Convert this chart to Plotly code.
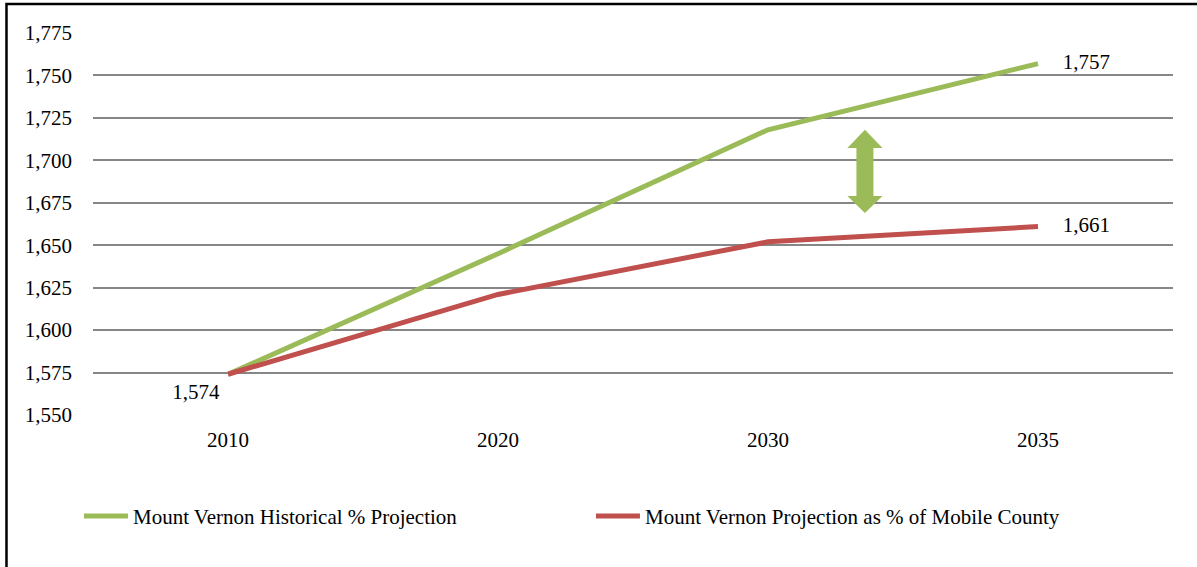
import plotly.graph_objects as go

years = ["2010", "2020", "2030", "2035"]
historical = [1574, 1645, 1718, 1757]
mobile_share = [1574, 1621, 1652, 1661]
series_names = ["Mount Vernon Historical % Projection",
                "Mount Vernon Projection as % of Mobile County"]
y_ticks = list(range(1550, 1776, 25))

GREEN = "#9BBB59"
RED = "#C0504D"
FONT = "Liberation Serif"

fig = go.Figure()
fig.add_trace(go.Scatter(x=years, y=historical, mode="lines", name=series_names[0],
                         line=dict(color=GREEN, width=5)))
fig.add_trace(go.Scatter(x=years, y=mobile_share, mode="lines", name=series_names[1],
                         line=dict(color=RED, width=5)))

# data labels (text marks placed through the axes)
fig.add_trace(go.Scatter(x=[years[-1], years[-1]], y=[historical[-1], mobile_share[-1]],
                         mode="markers+text", text=[f"{historical[-1]:,}", f"{mobile_share[-1]:,}"],
                         textposition="middle right",
                         marker=dict(size=38, opacity=0, color="white"),
                         textfont=dict(family=FONT, size=21, color="black"),
                         showlegend=False, hoverinfo="skip"))
fig.add_trace(go.Scatter(x=[years[0]], y=[mobile_share[0]],
                         mode="markers+text", text=[f"{mobile_share[0]:,}"],
                         textposition="bottom left",
                         marker=dict(size=12, opacity=0, color="white"),
                         textfont=dict(family=FONT, size=21, color="black"),
                         showlegend=False, hoverinfo="skip"))

# double-headed block arrow between the lines
cx = 2.359
hs, hh = 0.0315, 0.065
top, top_b, bot_b, bot = 1718, 1707.3, 1679, 1669
path = (f"M {cx},{top} L {cx+hh},{top_b} L {cx+hs},{top_b} L {cx+hs},{bot_b} "
        f"L {cx+hh},{bot_b} L {cx},{bot} L {cx-hh},{bot_b} L {cx-hs},{bot_b} "
        f"L {cx-hs},{top_b} L {cx-hh},{top_b} Z")
fig.add_shape(type="path", path=path, xref="x", yref="y",
              fillcolor=GREEN, line=dict(width=0))

# outer frame (top and left visible)
fig.add_shape(type="rect", xref="paper", yref="paper",
              x0=-0.0801, x1=1.05, y0=-0.6, y1=1.0759,
              line=dict(color="black", width=2.5), fillcolor="rgba(0,0,0,0)", layer="below")

fig.update_layout(
    width=1197, height=567,
    margin=dict(l=93, r=24, t=33, b=152),
    paper_bgcolor="white", plot_bgcolor="white",
    font=dict(family=FONT, size=21, color="black"),
    showlegend=True,
    legend=dict(orientation="h", x=-0.013, xanchor="left", y=-0.265, yanchor="middle",
                font=dict(family=FONT, size=21, color="black"),
                itemwidth=44, entrywidth=453, entrywidthmode="pixels"),
)
fig.update_xaxes(type="category", range=[-0.5, 3.5], showgrid=False, zeroline=False,
                 showline=False, ticks="", ticklabelstandoff=10,
                 tickfont=dict(family=FONT, size=21))
fig.update_yaxes(range=[1550, 1775], tickvals=y_ticks, ticktext=[f"{v:,}" for v in y_ticks],
                 showgrid=True, gridcolor="#868686", gridwidth=2, zeroline=False,
                 showline=False, ticks="", ticklabelstandoff=20,
                 tickfont=dict(family=FONT, size=21))

fig.write_html("out.html")
